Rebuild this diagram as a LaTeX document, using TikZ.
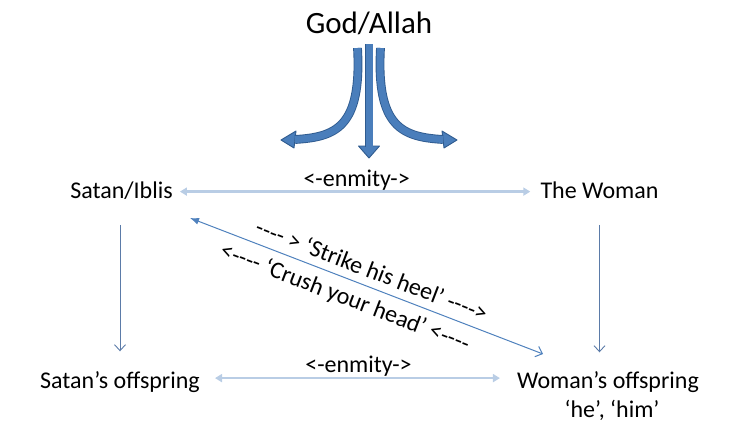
\documentclass[tikz,border=0pt]{standalone}
\usepackage{fontspec}
\setmainfont{Carlito}
\usetikzlibrary{arrows.meta}
\definecolor{enmc}{HTML}{B9CDE5}
\definecolor{vlinec}{HTML}{5B7BA8}
\definecolor{dlinec}{HTML}{4F81BD}
\definecolor{gfill}{HTML}{4A7EBB}
\definecolor{gdraw}{HTML}{2F5B8F}
\newcommand{\dsh}{{-}{-}{-}{-}}
\begin{document}
\begin{tikzpicture}[x=1pt,y=-1pt,
  lbl/.style={font=\fontsize{24}{28}\selectfont, inner sep=2pt, text height=17.5pt, text depth=4.7pt},
  sublbl/.style={font=\fontsize{24}{28}\selectfont, inner sep=1pt},
  enmarrow/.style={draw=enmc, line width=2.6pt, {Triangle[length=7pt,width=8pt]}-{Triangle[length=7pt,width=8pt]}},
  varrow/.style={draw=vlinec, line width=0.9pt, -{Straight Barb[length=6pt,width=11pt]}},
  darrow/.style={draw=dlinec, line width=1pt, {Latex[length=9pt,width=7pt]}-{Straight Barb[length=6pt,width=11pt]}},
  gbody/.style={draw=gdraw, line width=0.9pt, double=gfill, double distance=7pt},
  ghead/.style={draw=gdraw, fill=gfill, line width=0.9pt, line join=round}]
\useasboundingbox (0,0) rectangle (744,437);

% labels
\node[lbl, anchor=base, font=\fontsize{31}{35}\selectfont] (god) at (369,33) {God/Allah};
\node[lbl, anchor=base] (satan) at (121.5,198) {Satan/Iblis};
\node[lbl, anchor=base] (woman) at (599.5,198) {The Woman};
\node[lbl, anchor=base] (satanoff) at (120,388) {Satan’s offspring};
\node[lbl, anchor=base] (womanoff) at (608,388) {Woman’s offspring};
\node[lbl, anchor=base] (hehim) at (612,417) {‘he’, ‘him’};

% God arrows
\draw[ghead] (296,131) -- (281,140) -- (294,148) -- cycle;
\draw[gbody] (357.5,48) .. controls (362,128) and (335,137) .. (295,139.5);
\draw[ghead] (442,131) -- (457,140) -- (444,148) -- cycle;
\draw[gbody] (380.5,48) .. controls (376,128) and (403,137) .. (443,139.5);
\draw[ghead] (358.5,146) -- (379.5,146) -- (369,158) -- cycle;
\draw[gbody] (369,44) -- (369,147);

% enmity arrows
\draw[enmarrow, shorten <=5pt, shorten >=8pt] (satan.east) -- (woman.west)
  node[sublbl, midway, above=-1pt] (enm1) {<-enmity->};
\draw[enmarrow, shorten <=13pt, shorten >=15pt] ([yshift=3.5pt]satanoff.east) -- ([yshift=3.5pt]womanoff.west)
  node[sublbl, midway, above=-1pt] (enm2) {<-enmity->};

% vertical arrows
\draw[varrow, shorten <=20pt, shorten >=17pt] (satanoff.north |- satan.south) -- (satanoff.north);
\draw[varrow, shorten <=20pt, shorten >=16pt] (woman.south) -- (woman.south |- womanoff.north);

% diagonal
\coordinate (d1) at (190,218);
\coordinate (d2) at (543,354);
\draw[darrow] (d1) -- (d2);
\node[sublbl, rotate=-21] (strike) at (372,270) {\dsh\ > ‘Strike his heel’ \dsh>};
\node[sublbl, rotate=-21] (crush) at (345,298) {<\dsh\ ‘Crush your head’ <\dsh};
\end{tikzpicture}
\end{document}
